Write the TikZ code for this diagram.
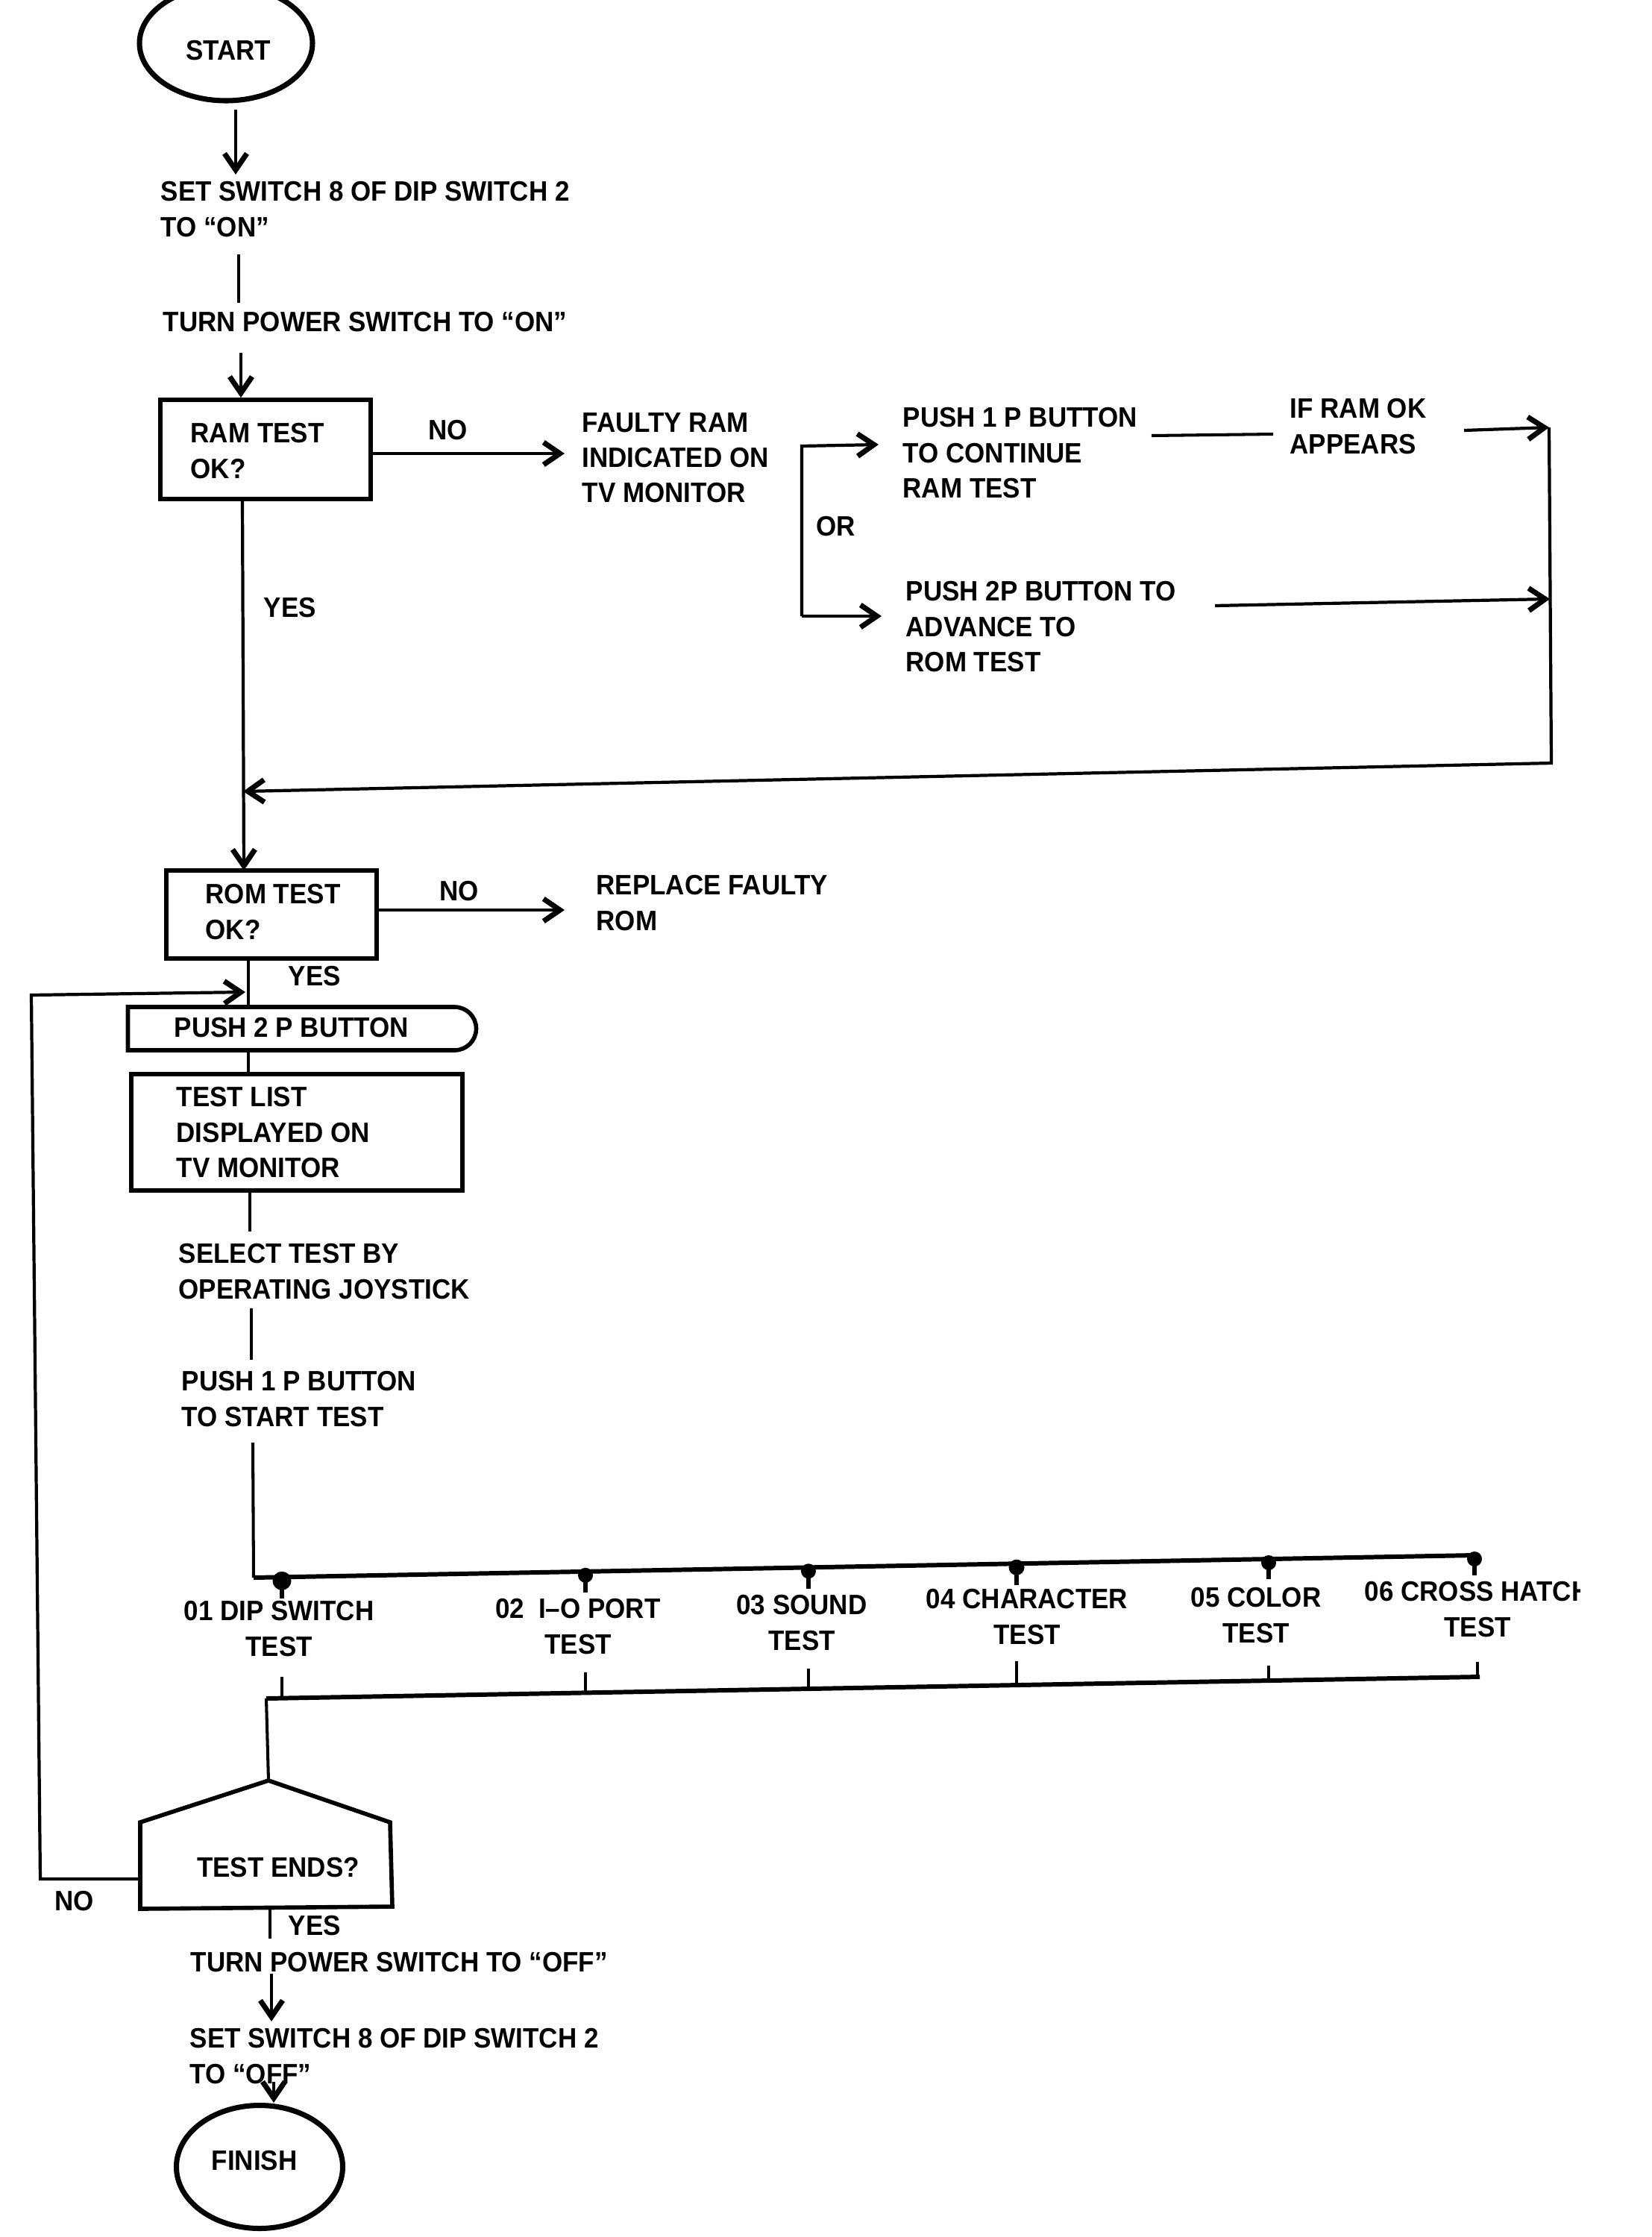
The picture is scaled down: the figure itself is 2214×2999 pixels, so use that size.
\documentclass[tikz,border=0pt]{standalone}
\usepackage{fontspec}
\setmainfont[FakeStretch=0.93]{Liberation Sans}
\usetikzlibrary{arrows.meta,shapes.geometric,shapes.misc}
\newcommand\lblfont{\fontsize{10.7}{13.4}\selectfont\bfseries}
\begin{document}
\begin{tikzpicture}[x=0.1mm,y=-0.1mm,
  txt/.style={font=\lblfont, inner sep=0pt, align=left, anchor=north west},
  stxt/.style={font=\lblfont, inner sep=0pt, anchor=base west},
  ctxt/.style={font=\lblfont, inner sep=0pt, align=center, anchor=north},
  conn/.style={line width=1.15pt},
  bus/.style={line width=1.7pt},
  arr/.style={line width=1.2pt, -{Straight Barb[length=2.2mm,width=3mm,line width=2pt]}},
  boxs/.style={draw, line width=1.6pt, inner sep=0pt},
  term/.style={draw, ellipse, line width=2pt, inner sep=0pt}]
\useasboundingbox (0,0) rectangle (2214,2999);

% ---- start
\node[term, minimum width=23.2mm, minimum height=15.4mm] (start) at (303,58) {};
\node[stxt, anchor=base] (startt) at (306,80) {START};
\coordinate (a1s) at (316,147); \coordinate (a1e) at (316,234);
\draw[arr] (a1s) -- (a1e);
\node[txt] (set1) at (215,243) {SET SWITCH 8 OF DIP SWITCH 2\\TO “ON”};
\coordinate (l1s) at (320,341); \coordinate (l1e) at (320,406);
\draw[conn] (l1s) -- (l1e);
\node[stxt] (turn1) at (218,444) {TURN POWER SWITCH TO “ON”};

% ---- RAM test
\node[boxs, minimum width=28.2mm, minimum height=13.3mm] (ram) at (356,602.5) {};
\node[txt] (ramt) at (255,567) {RAM TEST\\OK?};
\coordinate (a2s) at (323,473);
\draw[arr] (a2s) -- (a2s |- ram.north);
\node[stxt] (no1) at (574,589) {NO};
\coordinate (a3e) at (757,608);
\draw[arr] (ram.east |- a3e) -- (a3e);
\node[txt] (faulty) at (780,553) {FAULTY RAM\\INDICATED ON\\TV MONITOR};
\coordinate (brt) at (1075,598); \coordinate (brb) at (1075,826);
\coordinate (brte) at (1178,596); \coordinate (brbe) at (1182,826);
\draw[arr] (brb) -- (brt) -- (brte);
\draw[arr] (brb) -- (brbe);
\node[stxt] (or) at (1094,718) {OR};
\node[txt] (push1) at (1210,546) {PUSH 1 P BUTTON\\TO CONTINUE\\RAM TEST};
\coordinate (l2s) at (1544,584); \coordinate (l2e) at (1707,582);
\draw[conn] (l2s) -- (l2e);
\node[txt] (ifram) at (1729,534) {IF RAM OK\\APPEARS};
\node[txt] (push2to) at (1214,779) {PUSH 2P BUTTON TO\\ADVANCE TO\\ROM TEST};
\coordinate (r1) at (2077,573); \coordinate (r2) at (2078,803);
\coordinate (r3) at (2080,1023); \coordinate (ret) at (326,1061);
\coordinate (a4s) at (1963,577); \coordinate (a5s) at (1629,812);
\draw[arr] (a4s) -- (r1);
\draw[arr] (a5s) -- (r2);
\draw[arr] (r1) -- (r3) -- (ret);
\node[stxt] (yes1) at (353,827) {YES};

% ---- ROM test
\node[boxs, minimum width=28.2mm, minimum height=11.8mm] (rom) at (364,1226) {};
\node[txt] (romt) at (275,1185) {ROM TEST\\OK?};
\coordinate (m1) at (325,669); \coordinate (m2) at (327,1167);
\draw[arr] (m1) -- (m2);
\node[stxt] (no2) at (589,1207) {NO};
\coordinate (a6e) at (757,1220);
\draw[arr] (rom.east |- a6e) -- (a6e);
\node[txt] (replace) at (799,1173) {REPLACE FAULTY\\ROM};
\node[stxt] (yes2) at (386,1321) {YES};

% ---- push 2P
\node[draw, rounded rectangle, rounded rectangle left arc=none, line width=1.6pt,
      minimum width=46.7mm, minimum height=5.8mm, inner sep=0pt] (p2p) at (405,1379) {};
\node[stxt] (p2pt) at (233,1390) {PUSH 2 P BUTTON};
\coordinate (m3) at (333,1285);
\draw[conn] (m3) -- (m3 |- p2p.north);

% ---- test list
\node[boxs, minimum width=44.4mm, minimum height=15.6mm] (tlist) at (398,1518) {};
\node[txt] (tlistt) at (236,1457) {TEST LIST\\DISPLAYED ON\\TV MONITOR};
\draw[conn] (m3 |- p2p.south) -- (m3 |- tlist.north);
\coordinate (l3s) at (335,1596); \coordinate (l3e) at (335,1651);
\draw[conn] (l3s) -- (l3e);
\node[txt] (select) at (239,1667) {SELECT TEST BY\\OPERATING JOYSTICK};
\coordinate (l4s) at (337,1754); \coordinate (l4e) at (337,1823);
\draw[conn] (l4s) -- (l4e);
\node[txt] (p1start) at (243,1838) {PUSH 1 P BUTTON\\TO START TEST};

% ---- test bus
\coordinate (l5s) at (339,1934); \coordinate (b1l) at (340,2115); \coordinate (b1r) at (1977,2085);
\draw[conn] (l5s) -- (b1l);
\draw[bus] (b1l) -- (b1r);
\foreach \x/\yb/\yt/\r in {378/2114.3/2143/1.25, 785/2106.8/2135/1.0, 1084/2101.3/2130/1.0,
                        1363/2096.2/2125/1.05, 1701/2090/2117/1.0, 1977/2085/2112/1.0}{
  \fill (\x,{\yb+5}) ellipse [x radius=\r mm, y radius=\r mm];
  \draw[line width=1.5pt] (\x,\yb) -- (\x,\yt);
}
\node[ctxt] (t01) at (374,2146) {01 DIP SWITCH\\TEST};
\node[ctxt] (t02) at (775,2143) {02\enspace I–O PORT\\TEST};
\node[ctxt] (t03) at (1075,2138) {03 SOUND\\TEST};
\node[ctxt] (t04) at (1377,2130) {04 CHARACTER\\TEST};
\node[ctxt] (t05) at (1684,2128) {05 COLOR\\TEST};
\begin{scope}
\clip (0,0) rectangle (2118,2999);
\node[ctxt] (t06) at (1981,2120) {06 CROSS HATCH\\TEST};
\end{scope}
\foreach \x/\yt/\yb in {378/2248/2276.6, 785/2242/2269.4, 1084/2237/2264,
                        1363/2227/2259, 1701/2233/2253, 1981/2228/2248}{
  \draw[conn] (\x,\yt) -- (\x,\yb);
}
\coordinate (b2l) at (357,2277); \coordinate (b2r) at (1984,2248);
\draw[bus] (b2l) -- (b2r);

% ---- test ends
\coordinate (pa) at (360,2387); \coordinate (pr) at (523,2443); \coordinate (pbr) at (526,2556);
\coordinate (pbl) at (188,2559); \coordinate (pl) at (188,2443);
\draw[conn] (b2l) -- (pa);
\draw[line width=1.6pt] (pa) -- (pr) -- (pbr) -- (pbl) -- (pl) -- cycle;
\node[stxt, anchor=base] (tends) at (373,2516) {TEST ENDS?};
\coordinate (nl1) at (188,2519); \coordinate (nl2) at (54,2519);
\coordinate (nl3) at (42,1334); \coordinate (nl4) at (329,1330);
\draw[arr] (nl1) -- (nl2) -- (nl3) -- (nl4);
\node[stxt] (no3) at (73,2561) {NO};
\node[stxt] (yes3) at (386,2594) {YES};
\coordinate (l6s) at (362,2559); \coordinate (l6e) at (362,2599);
\draw[conn] (l6s) -- (l6e);
\node[stxt] (turnoff) at (255,2643) {TURN POWER SWITCH TO “OFF”};
\coordinate (a7s) at (364,2646); \coordinate (a7e) at (364,2710);
\draw[arr] (a7s) -- (a7e);
\node[txt] (setoff) at (254,2719) {SET SWITCH 8 OF DIP SWITCH 2\\TO “OFF”};

% ---- finish
\node[term, minimum width=22.3mm, minimum height=16.5mm] (finish) at (348,2905) {};
\node[stxt, anchor=base] (finisht) at (341,2909) {FINISH};
\coordinate (a8s) at (367,2791);
\draw[arr] (a8s) -- (a8s |- finish.north);
\end{tikzpicture}
\end{document}
